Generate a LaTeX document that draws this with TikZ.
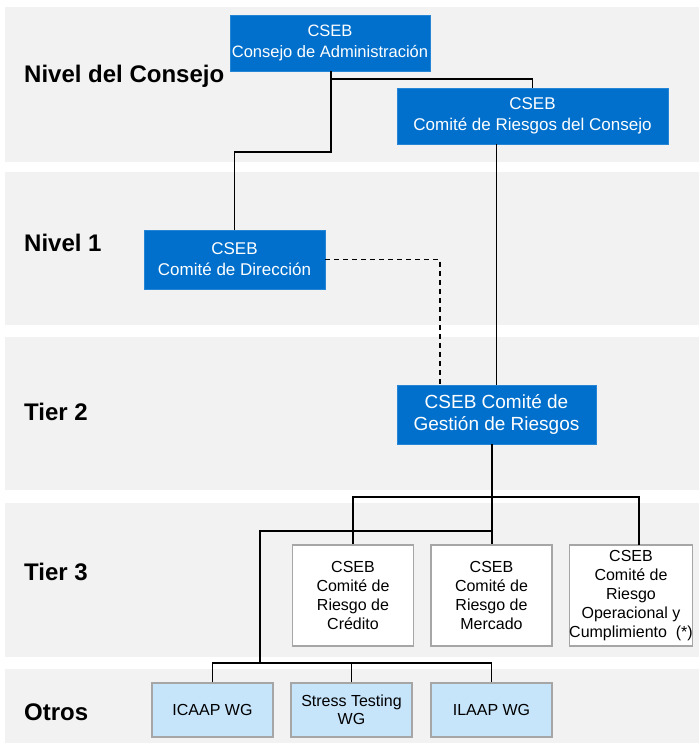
\documentclass[tikz,border=0pt]{standalone}
\usepackage{fontspec}
\setmainfont{Liberation Sans}
\definecolor{cblue}{HTML}{0070CC}
\definecolor{clight}{HTML}{C6E4FA}
\definecolor{cband}{HTML}{F2F2F2}
\definecolor{cedge}{HTML}{A6A6A6}
\begin{document}
\begin{tikzpicture}[x=1pt,y=-1pt,
  band/.style={fill=cband,draw=none},
  bluebox/.style={fill=cblue,draw=cblue!85!white,line width=0.8pt,text=white,inner sep=0pt,align=center,font=\fontsize{17}{21}\selectfont},
  whitebox/.style={fill=white,draw=cedge,line width=1.3pt,inner sep=0pt,align=center,minimum width=121pt,minimum height=101pt,font=\fontsize{16}{19}\selectfont},
  otherbox/.style={fill=clight,draw=cedge,line width=1.3pt,inner sep=0pt,align=center,minimum width=121pt,minimum height=54pt,font=\fontsize{16}{18}\selectfont},
  lvl/.style={anchor=base west,inner sep=0pt,font=\fontsize{24}{28}\selectfont\bfseries},
  conn/.style={draw=black,line width=1.6pt},
  dconn/.style={draw=black,line width=1.3pt,dash pattern=on 5pt off 4pt}]
\useasboundingbox (0,0) rectangle (699,745);
\fill[white] (0,0) rectangle (699,745);
% bands
\path[band] (5,7) rectangle (699,162);
\path[band] (5,172) rectangle (699,325);
\path[band] (5,337) rectangle (699,490);
\path[band] (5,503) rectangle (699,657);
\path[band] (5,669) rectangle (699,743);
% level labels
\node[lvl] (l0) at (24,82) {Nivel del Consejo};
\node[lvl] (l1) at (24,251.5) {Nivel 1};
\node[lvl] (l2) at (24,420.5) {Tier 2};
\node[lvl] (l3) at (24,580.5) {Tier 3};
\node[lvl] (l4) at (24,720.5) {Otros};
% boxes
\node[bluebox,minimum width=200pt,minimum height=56pt,font=\fontsize{16.5}{21}\selectfont] (A) at (330,43) {CSEB\\Consejo de Administración};
\node[bluebox,minimum width=271pt,minimum height=56pt] (B) at (532.5,116) {CSEB\\Comité de Riesgos del Consejo};
\node[bluebox,minimum width=181pt,minimum height=59pt] (C) at (234.5,259.5) {CSEB\\Comité de Dirección};
\node[bluebox,minimum width=199pt,minimum height=59pt,font=\fontsize{19}{22}\selectfont] (D) at (496.5,414.5) {CSEB Comité de\\Gestión de Riesgos};
\node[whitebox] (T1) at (353,595.5) {CSEB\\Comité de\\Riesgo de\\Crédito};
\node[whitebox] (T2) at (491.5,595.5) {CSEB\\Comité de\\Riesgo de\\Mercado};
\node[whitebox,minimum width=122pt] (T3) at (631,595.5) {CSEB\\Comité de\\Riesgo\\Operacional y\\Cumplimiento\ \ (*)};
\node[otherbox] (O1) at (212.5,710) {ICAAP WG};
\node[otherbox] (O2) at (351.5,710) {Stress Testing\\WG};
\node[otherbox] (O3) at (491.5,710) {ILAAP WG};
% connector anchors
\coordinate (a1) at (331,71);
\coordinate (t3in) at (639,545);
\coordinate (trunk) at (492,444);
\coordinate (otrosv) at (260,663);
% connectors
\draw[conn] (a1) -- (a1 |- 0,152) -| (C.north);
\draw[conn] (a1 |- 0,79) -| (B.north);
\draw[conn] (B.south -| D.north) -- (D.north);
\draw[dconn] (C.east) -| (D.north -| 440,0);
\draw[conn] (trunk) -- (trunk |- T2.north);
\draw[conn] (T1.north) |- (t3in |- 0,497) -- (t3in);
\draw[conn] (trunk |- 0,531) -| (otrosv);
\draw[conn] (O1.north) |- (O3.north |- otrosv) -- (O3.north);
\draw[conn] (O2.north) -- (O2.north |- otrosv);
\end{tikzpicture}
\end{document}
